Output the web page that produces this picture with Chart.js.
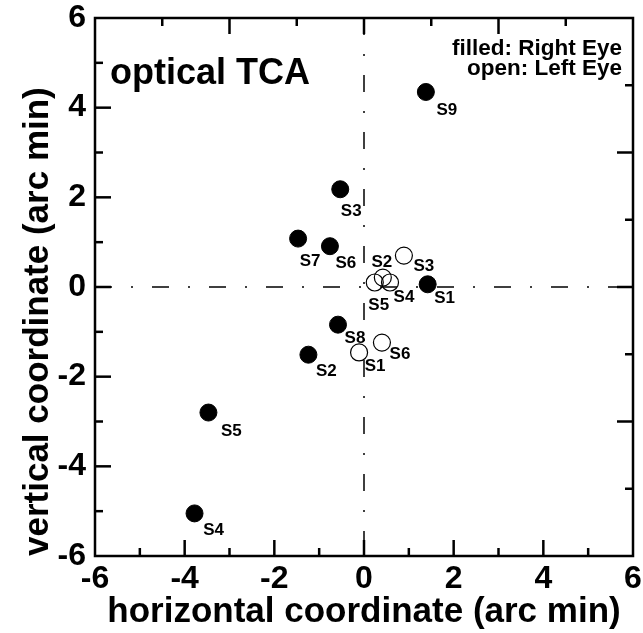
<!DOCTYPE html>
<html>
<head>
<meta charset="utf-8">
<script src="https://cdn.jsdelivr.net/npm/chart.js@4.4.0/dist/chart.umd.min.js"></script>
<style>
  html, body { margin: 0; padding: 0; background: #fff; }
  #wrap { width: 643px; height: 633px; }
</style>
</head>
<body>
<div id="wrap"><canvas id="c"></canvas></div>
<script>
// right eye (filled symbols)
const filledNames = ['S1', 'S2', 'S3', 'S4', 'S5', 'S6', 'S7', 'S8', 'S9']
const filledX = [1.42, -1.24, -0.53, -3.78, -3.47, -0.76, -1.47, -0.58, 1.38]
const filledY = [0.06, -1.51, 2.18, -5.05, -2.8, 0.91, 1.08, -0.84, 4.35]

// left eye (open symbols)
const openNames = ['S1', 'S2', 'S3', 'S4', 'S5', 'S6']
const openX = [-0.11, 0.42, 0.89, 0.58, 0.24, 0.4]
const openY = [-1.46, 0.21, 0.7, 0.1, 0.1, -1.24]

const axisMin = -6
const axisMax = 6
const labelStep = 2

// label placement relative to each marker, px
const filledLabelShift = [[17, 14], [18, 17], [11, 22], [19, 17], [23, 19], [16, 17], [12, 23], [17, 14], [21, 18]]
const openLabelShift = [[16, 14], [-1, -15], [20, 11], [14, 15], [4, 23], [18, 12]]

const FONT = "'Liberation Sans', Arial, sans-serif"

function points(xs, ys) {
  return xs.map((x, i) => ({ x, y: ys[i] }))
}

function innerTicks(ctx, scale, step, side, a) {
  const n = Math.round((scale.max - scale.min) / step)
  for (let i = 1; i < n; i++) {
    const p = scale.getPixelForValue(scale.min + i * step)
    const len = i % 2 === 0 ? 16 : 8
    ctx.beginPath()
    if (side === 'bottom') { ctx.moveTo(p, a.bottom); ctx.lineTo(p, a.bottom - len) }
    if (side === 'top') { ctx.moveTo(p, a.top); ctx.lineTo(p, a.top + len) }
    if (side === 'left') { ctx.moveTo(a.left, p); ctx.lineTo(a.left + len, p) }
    if (side === 'right') { ctx.moveTo(a.right, p); ctx.lineTo(a.right - len, p) }
    ctx.stroke()
  }
}

const framePlugin = {
  id: 'frame',
  beforeDatasetsDraw(chart) {
    const { ctx, chartArea: a, scales: { x, y } } = chart
    ctx.save()
    ctx.strokeStyle = '#000'
    ctx.lineWidth = 1.5
    ctx.setLineDash([17, 19, 2, 19])
    const y0 = y.getPixelForValue(0)
    const x0 = x.getPixelForValue(0)
    ctx.beginPath(); ctx.moveTo(a.left, y0); ctx.lineTo(a.right, y0); ctx.stroke()
    ctx.beginPath(); ctx.moveTo(x0, a.top); ctx.lineTo(x0, a.bottom); ctx.stroke()
    ctx.restore()
  },
  afterDatasetsDraw(chart) {
    const { ctx, chartArea: a, scales: { x, y } } = chart
    ctx.save()
    ctx.strokeStyle = '#000'
    ctx.lineWidth = 2.5
    ctx.strokeRect(a.left, a.top, a.right - a.left, a.bottom - a.top)
    innerTicks(ctx, x, 1, 'bottom', a)
    innerTicks(ctx, y, 1, 'left', a)
    innerTicks(ctx, x, 1.5, 'top', a)
    innerTicks(ctx, y, 1.5, 'right', a)

    // subject labels
    ctx.fillStyle = '#000'
    ctx.font = 'bold 17px ' + FONT
    ctx.textAlign = 'center'
    ctx.textBaseline = 'middle'
    chart.data.datasets.forEach((ds, d) => {
      chart.getDatasetMeta(d).data.forEach((pt, i) => {
        const s = ds.shifts[i]
        ctx.fillText(ds.names[i], pt.x + s[0], pt.y + s[1])
      })
    })

    // panel title and symbol key
    ctx.textBaseline = 'alphabetic'
    ctx.textAlign = 'left'
    ctx.font = 'bold 36px ' + FONT
    ctx.fillText('optical TCA', a.left + 15, a.top + 66)
    ctx.textAlign = 'right'
    ctx.font = 'bold 22.5px ' + FONT
    ctx.fillText('filled: Right Eye', a.right - 11, a.top + 37)
    ctx.fillText('open: Left Eye', a.right - 11, a.top + 57)
    ctx.restore()
  }
}

const tickFont = { family: FONT, size: 32, weight: 'bold', lineHeight: 1 }

new Chart(document.getElementById('c'), {
  type: 'scatter',
  data: {
    datasets: [
      {
        label: 'filled: Right Eye',
        data: points(filledX, filledY),
        names: filledNames,
        shifts: filledLabelShift,
        pointRadius: 8.5,
        backgroundColor: '#000',
        borderColor: '#000',
        borderWidth: 1,
      },
      {
        label: 'open: Left Eye',
        data: points(openX, openY),
        names: openNames,
        shifts: openLabelShift,
        pointRadius: 8.5,
        backgroundColor: 'rgba(0,0,0,0)',
        borderColor: '#000',
        borderWidth: 1.2,
      },
    ],
  },
  options: {
    responsive: true,
    maintainAspectRatio: false,
    animation: false,
    layout: { padding: { top: 18, right: 10, left: 17, bottom: 0 } },
    plugins: {
      legend: { display: false },
      tooltip: { enabled: false },
    },
    scales: {
      x: {
        type: 'linear',
        min: axisMin,
        max: axisMax,
        ticks: { stepSize: labelStep, padding: 7, color: '#000', font: tickFont },
        grid: { display: false, drawTicks: false },
        border: { display: false },
        title: {
          display: true, text: 'horizontal coordinate (arc min)', color: '#000',
          font: { family: FONT, size: 35, weight: 'bold', lineHeight: 1.2 }, padding: 0,
        },
        afterFit: s => { s.height = 77; s.paddingLeft = 0; s.paddingRight = 0 },
      },
      y: {
        type: 'linear',
        min: axisMin,
        max: axisMax,
        ticks: { stepSize: labelStep, padding: 9, color: '#000', font: tickFont },
        grid: { display: false, drawTicks: false },
        border: { display: false },
        title: {
          display: true, align: 'start', text: 'vertical coordinate (arc min)', color: '#000',
          font: { family: FONT, size: 35, weight: 'bold', lineHeight: 1.2 }, padding: 0,
        },
        afterFit: s => { s.width = 78; s.paddingTop = 0; s.paddingBottom = 0 },
      },
    },
  },
  plugins: [framePlugin],
})
</script>
</body>
</html>
